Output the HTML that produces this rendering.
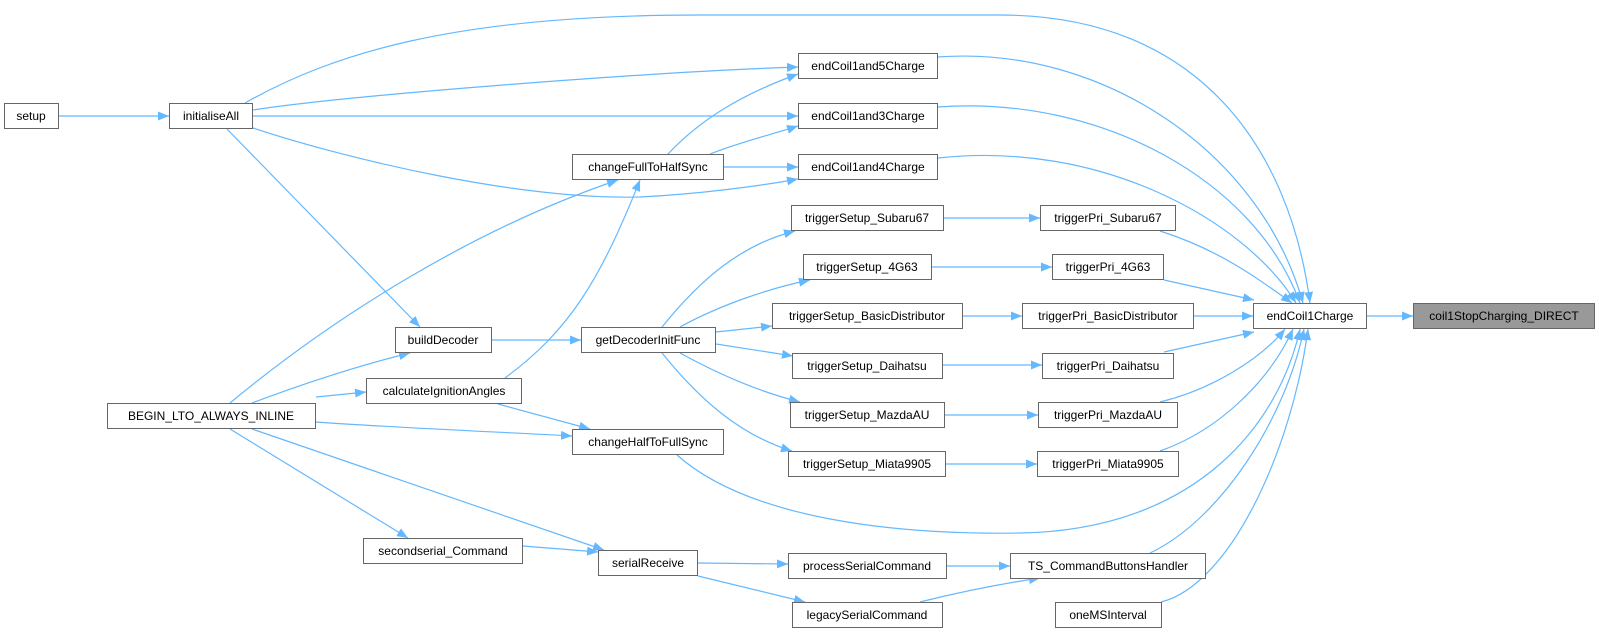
<!DOCTYPE html>
<html><head><meta charset="utf-8"><style>
html,body{margin:0;padding:0;background:#fff;}
svg{display:block;}
text{font-family:"Liberation Sans",Arial,sans-serif;font-size:12px;fill:#000;text-anchor:middle;}
.b{fill:#fff;stroke:#666;stroke-width:1;}
.e{fill:none;stroke:#63b8ff;stroke-width:1.2;}
</style></head><body>
<svg width="1599" height="633" viewBox="0 0 1599 633" xmlns="http://www.w3.org/2000/svg">
<defs><marker id="a" markerUnits="userSpaceOnUse" markerWidth="12" markerHeight="9" refX="11" refY="4.5" orient="auto"><path d="M0,0 L11,4.5 L0,9 z" fill="#63b8ff"/></marker></defs>
<g class="e" marker-end="url(#a)">
<path d="M59,116 L169,116"/>
<path d="M253,110 C350,95 650,72 798,67"/>
<path d="M253,116 L798,116"/>
<path d="M253,128 C350,160 520,200 640,197 C700,194 760,186 798,179"/>
<path d="M245,103 C330,55 450,15 700,15 L1000,15 C1200,15 1290,150 1310,303"/>
<path d="M668,154 C700,120 740,95 798,74"/>
<path d="M710,154 C740,142 770,135 798,126"/>
<path d="M724,167 L798,167"/>
<path d="M230,403 C330,320 470,230 618,180"/>
<path d="M505,378 C570,330 600,280 640,180"/>
<path d="M227,129 L420,327"/>
<path d="M252,403 C300,385 360,365 410,353"/>
<path d="M492,340 L581,340"/>
<path d="M316,397 L366,392"/>
<path d="M316,422 C400,428 500,432 572,436"/>
<path d="M498,404 L590,429"/>
<path d="M662,327 C700,280 740,245 795,231"/>
<path d="M680,327 C720,305 770,288 810,280"/>
<path d="M716,332 L772,326"/>
<path d="M716,344 L793,356"/>
<path d="M680,353 C720,375 760,392 800,402"/>
<path d="M662,353 C700,400 740,435 792,451"/>
<path d="M944,218 L1040,218"/>
<path d="M932,267 L1052,267"/>
<path d="M963,316 L1022,316"/>
<path d="M943,365 L1042,365"/>
<path d="M945,415 L1038,415"/>
<path d="M946,464 L1037,464"/>
<path d="M1160,231 C1220,250 1260,280 1292,303"/>
<path d="M1164,280 L1254,300"/>
<path d="M1194,316 L1253,316"/>
<path d="M1164,352 L1254,332"/>
<path d="M1160,402 C1210,390 1260,360 1285,329"/>
<path d="M1160,451 C1220,430 1270,380 1293,329"/>
<path d="M938,57 C1100,45 1260,150 1303,303"/>
<path d="M938,107 C1100,95 1255,180 1300,303"/>
<path d="M938,158 C1100,140 1245,220 1296,303"/>
<path d="M677,455 C750,520 900,535 1020,533 C1200,530 1280,420 1300,329"/>
<path d="M1150,553 C1220,520 1285,420 1304,329"/>
<path d="M1161,602 C1230,585 1292,450 1308,329"/>
<path d="M230,429 L408,538"/>
<path d="M252,429 L604,550"/>
<path d="M523,546 L598,552"/>
<path d="M698,563 L788,564"/>
<path d="M698,576 L805,602"/>
<path d="M947,566 L1010,566"/>
<path d="M920,602 C960,592 1000,584 1040,578"/>
<path d="M1366,316 L1413,316"/>
</g>
<g>
<rect class="b" x="4.5" y="103.5" width="54" height="25"/><text x="31" y="120">setup</text>
<rect class="b" x="169.5" y="103.5" width="83" height="25"/><text x="211" y="120">initialiseAll</text>
<rect class="b" x="107.5" y="403.5" width="208" height="25"/><text x="211" y="420">BEGIN_LTO_ALWAYS_INLINE</text>
<rect class="b" x="395.5" y="327.5" width="96" height="25"/><text x="443" y="344">buildDecoder</text>
<rect class="b" x="366.5" y="378.5" width="155" height="25"/><text x="444" y="395">calculateIgnitionAngles</text>
<rect class="b" x="363.5" y="538.5" width="159" height="25"/><text x="443" y="555">secondserial_Command</text>
<rect class="b" x="572.5" y="154.5" width="151" height="25"/><text x="648" y="171">changeFullToHalfSync</text>
<rect class="b" x="581.5" y="327.5" width="134" height="25"/><text x="648" y="344">getDecoderInitFunc</text>
<rect class="b" x="572.5" y="429.5" width="151" height="25"/><text x="648" y="446">changeHalfToFullSync</text>
<rect class="b" x="598.5" y="550.5" width="99" height="25"/><text x="648" y="567">serialReceive</text>
<rect class="b" x="798.5" y="53.5" width="139" height="25"/><text x="868" y="70">endCoil1and5Charge</text>
<rect class="b" x="798.5" y="103.5" width="139" height="25"/><text x="868" y="120">endCoil1and3Charge</text>
<rect class="b" x="798.5" y="154.5" width="139" height="25"/><text x="868" y="171">endCoil1and4Charge</text>
<rect class="b" x="791.5" y="205.5" width="152" height="25"/><text x="867" y="222">triggerSetup_Subaru67</text>
<rect class="b" x="803.5" y="254.5" width="128" height="25"/><text x="867" y="271">triggerSetup_4G63</text>
<rect class="b" x="772.5" y="303.5" width="190" height="25"/><text x="867" y="320">triggerSetup_BasicDistributor</text>
<rect class="b" x="792.5" y="353.5" width="150" height="25"/><text x="867" y="370">triggerSetup_Daihatsu</text>
<rect class="b" x="790.5" y="402.5" width="154" height="25"/><text x="867" y="419">triggerSetup_MazdaAU</text>
<rect class="b" x="788.5" y="451.5" width="157" height="25"/><text x="867" y="468">triggerSetup_Miata9905</text>
<rect class="b" x="788.5" y="553.5" width="158" height="25"/><text x="867" y="570">processSerialCommand</text>
<rect class="b" x="792.5" y="602.5" width="150" height="25"/><text x="867" y="619">legacySerialCommand</text>
<rect class="b" x="1040.5" y="205.5" width="135" height="25"/><text x="1108" y="222">triggerPri_Subaru67</text>
<rect class="b" x="1052.5" y="254.5" width="111" height="25"/><text x="1108" y="271">triggerPri_4G63</text>
<rect class="b" x="1022.5" y="303.5" width="171" height="25"/><text x="1108" y="320">triggerPri_BasicDistributor</text>
<rect class="b" x="1042.5" y="353.5" width="131" height="25"/><text x="1108" y="370">triggerPri_Daihatsu</text>
<rect class="b" x="1038.5" y="402.5" width="139" height="25"/><text x="1108" y="419">triggerPri_MazdaAU</text>
<rect class="b" x="1037.5" y="451.5" width="141" height="25"/><text x="1108" y="468">triggerPri_Miata9905</text>
<rect class="b" x="1010.5" y="553.5" width="195" height="25"/><text x="1108" y="570">TS_CommandButtonsHandler</text>
<rect class="b" x="1055.5" y="602.5" width="106" height="25"/><text x="1108" y="619">oneMSInterval</text>
<rect class="b" x="1253.5" y="303.5" width="113" height="25"/><text x="1310" y="320">endCoil1Charge</text>
<rect x="1413.5" y="303.5" width="181" height="25" fill="#999" stroke="#666"/><text x="1504" y="320">coil1StopCharging_DIRECT</text>
</g>
</svg>
</body></html>
